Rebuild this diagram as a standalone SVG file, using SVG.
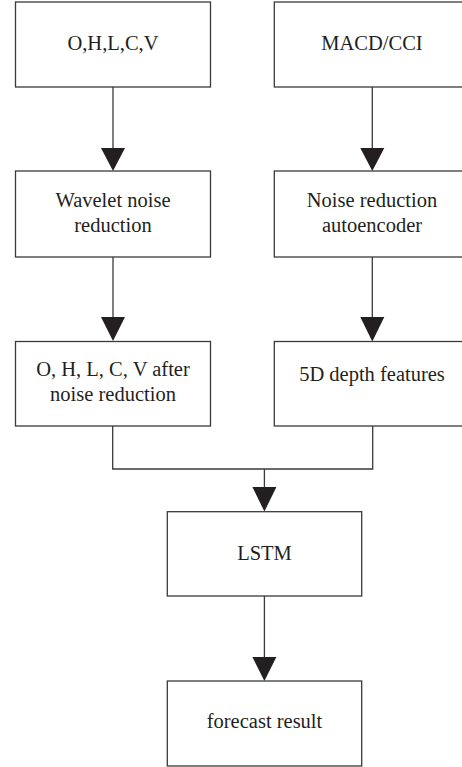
<svg xmlns="http://www.w3.org/2000/svg" width="462" height="767" viewBox="0 0 462 767">
<style>
.box{fill:#fff;stroke:#3a3a3a;stroke-width:1.3}
.ln{fill:none;stroke:#3a3a3a;stroke-width:1.3}
.hd{fill:#231f20}
text{font-family:"Liberation Serif","Times New Roman",serif;font-size:20.5px;fill:#231f20;text-anchor:middle}
</style>
<rect width="462" height="767" fill="#fff"/>
<g id="connectors">
<path class="ln" d="M113 87V150"/>
<polygon class="hd" points="101,148 125,148 113,171"/>
<path class="ln" d="M113 257V319"/>
<polygon class="hd" points="101,317 125,317 113,341"/>
<path class="ln" d="M372.3 87V150"/>
<polygon class="hd" points="360.3,148 384.3,148 372.3,171"/>
<path class="ln" d="M372.3 257V319"/>
<polygon class="hd" points="360.3,317 384.3,317 372.3,341.5"/>
<path class="ln" d="M112.7 426V469H372.7V426M264.4 469V489"/>
<polygon class="hd" points="252.4,487 276.4,487 264.4,511.5"/>
<path class="ln" d="M264.4 596V659"/>
<polygon class="hd" points="252.4,657 276.4,657 264.4,681"/>
</g>
<g id="n1"><rect class="box" x="15.5" y="2" width="195" height="85"/><text x="113" y="50">O,H,L,C,V</text></g>
<g id="n2"><rect class="box" x="274.3" y="2" width="196" height="85"/><text x="372" y="50">MACD/CCI</text></g>
<g id="n3"><rect class="box" x="15.5" y="171" width="195" height="86"/><text x="113" y="207">Wavelet noise</text><text x="113" y="232">reduction</text></g>
<g id="n4"><rect class="box" x="274.3" y="171" width="196" height="86"/><text x="372" y="207">Noise reduction</text><text x="372" y="232">autoencoder</text></g>
<g id="n5"><rect class="box" x="15.5" y="341.5" width="195" height="84.5"/><text x="113" y="376">O, H, L, C, V after</text><text x="113" y="401">noise reduction</text></g>
<g id="n6"><rect class="box" x="274.3" y="341.5" width="196" height="84.5"/><text x="372" y="381">5D depth features</text></g>
<g id="n7"><rect class="box" x="167.3" y="511.7" width="194.4" height="84.3"/><text x="264.5" y="560">LSTM</text></g>
<g id="n8"><rect class="box" x="167.3" y="681" width="194.4" height="85"/><text x="264.5" y="728">forecast result</text></g>
</svg>
